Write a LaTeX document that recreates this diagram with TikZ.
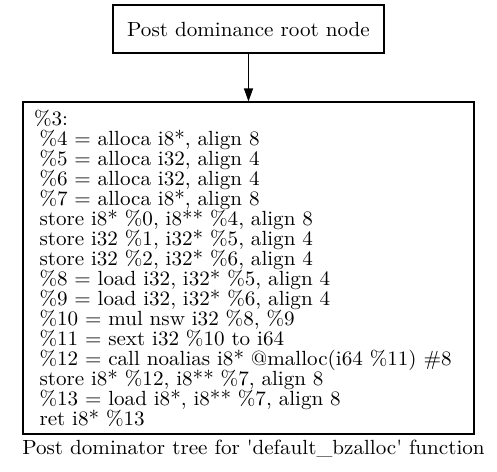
\documentclass[tikz,border=0pt]{standalone}
\usepackage{fontspec}
\setmainfont{lmroman10-regular.otf}[FakeStretch=1.03]
\usepackage{tikz}
\usetikzlibrary{arrows.meta}
\usetikzlibrary{positioning}

\newcommand{\lpad}{\hspace*{5.5pt}}
\newcommand{\codefont}{\fontsize{20.5}{20}\selectfont\lineskiplimit=-30pt\relax}

\begin{document}
\begin{tikzpicture}[x=1pt,y=1pt,
  box/.style={draw, line width=1.1pt, rectangle},
  code/.style={font=\codefont}]

\useasboundingbox (0,0) rectangle (497,-471);

\node[box, code, minimum width=271pt, minimum height=48pt] (root) at (248.5,-29) {Post dominance root node};

\node[box, code, minimum width=451pt, minimum height=332pt, inner xsep=11pt,
      text width=429pt, align=left] (bb3) at (248.5,-268)
{\%3:\\
\lpad\%4 = alloca i8*, align 8\\
\lpad\%5 = alloca i32, align 4\\
\lpad\%6 = alloca i32, align 4\\
\lpad\%7 = alloca i8*, align 8\\
\lpad store i8* \%0, i8** \%4, align 8\\
\lpad store i32 \%1, i32* \%5, align 4\\
\lpad store i32 \%2, i32* \%6, align 4\\
\lpad\%8 = load i32, i32* \%5, align 4\\
\lpad\%9 = load i32, i32* \%6, align 4\\
\lpad\%10 = mul nsw i32 \%8, \%9\\
\lpad\%11 = sext i32 \%10 to i64\\
\lpad\%12 = call noalias i8* @malloc(i64 \%11) \#8\\
\lpad store i8* \%12, i8** \%7, align 8\\
\lpad\%13 = load i8*, i8** \%7, align 8\\
\lpad ret i8* \%13};

\draw[line width=1.1pt, -{Triangle[length=13pt,width=9pt]}] (root) -- (bb3);

\node[code] (title) at (253.5,-449) {Post dominator tree for \textquotesingle default\_bzalloc\textquotesingle{} function};

\end{tikzpicture}
\end{document}
